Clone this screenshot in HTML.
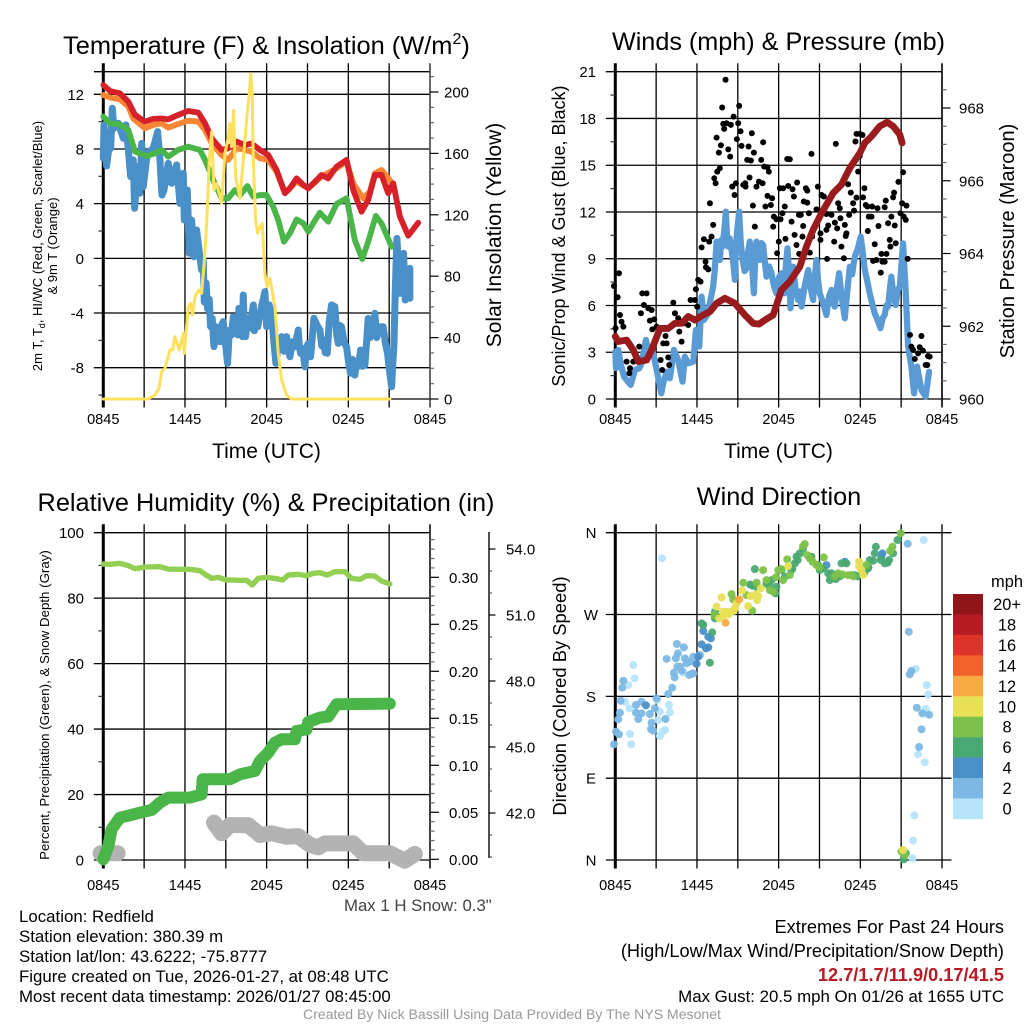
<!DOCTYPE html>
<html lang="en">
<head>
<meta charset="utf-8">
<title>Redfield Station Meteogram</title>
<style>
html,body{margin:0;padding:0;background:#fff;}
svg{display:block;font-family:"Liberation Sans",Arial,sans-serif;}
text{fill:#000;}
</style>
</head>
<body>
<svg id="chart" xmlns="http://www.w3.org/2000/svg" width="1024" height="1024" viewBox="0 0 1024 1024">
  <text x="63" y="54" font-size="25.4">Temperature (F) &amp; Insolation (W/m<tspan font-size="16" dy="-10">2</tspan><tspan dy="10">)</tspan></text>
  <text x="778.5" y="50" font-size="25.2" text-anchor="middle">Winds (mph) &amp; Pressure (mb)</text>
  <text x="266" y="511" font-size="25.3" text-anchor="middle">Relative Humidity (%) &amp; Precipitation (in)</text>
  <text x="779" y="505" font-size="25.3" text-anchor="middle">Wind Direction</text>

  <text x="266.5" y="458" font-size="21" text-anchor="middle">Time (UTC)</text>
  <text x="778.5" y="458" font-size="21" text-anchor="middle">Time (UTC)</text>

  <text transform="translate(42,246) rotate(-90)" font-size="13" text-anchor="middle">2m T, T<tspan font-size="9" dy="3">d</tspan><tspan dy="-3">, HI/WC (Red, Green, Scarlet/Blue)</tspan></text>
  <text transform="translate(57,246) rotate(-90)" font-size="13" text-anchor="middle">&amp; 9m T (Orange)</text>
  <text transform="translate(501,235) rotate(-90)" font-size="21" text-anchor="middle">Solar Insolation (Yellow)</text>
  <text transform="translate(565,236) rotate(-90)" font-size="18" text-anchor="middle">Sonic/Prop Wind &amp; Gust (Blue, Black)</text>
  <text transform="translate(1014,241) rotate(-90)" font-size="20" text-anchor="middle">Station Pressure (Maroon)</text>
  <text transform="translate(49,705) rotate(-90)" font-size="13.3" text-anchor="middle">Percent, Precipitation (Green), &amp; Snow Depth (Gray)</text>
  <text transform="translate(566,696) rotate(-90)" font-size="18.4" text-anchor="middle">Direction (Colored By Speed)</text>

  <g id="panels"></g>

  <text x="344" y="911" font-size="16.8" style="fill:#444">Max 1 H Snow: 0.3"</text>
  <g font-size="16.85">
    <text x="19" y="922">Location: Redfield</text>
    <text x="19" y="942">Station elevation: 380.39 m</text>
    <text x="19" y="962">Station lat/lon: 43.6222; -75.8777</text>
    <text x="19" y="982">Figure created on Tue, 2026-01-27, at 08:48 UTC</text>
    <text x="19" y="1002">Most recent data timestamp: 2026/01/27 08:45:00</text>
  </g>
  <g font-size="18.2" text-anchor="end">
    <text x="1004" y="933">Extremes For Past 24 Hours</text>
    <text x="1004" y="957">(High/Low/Max Wind/Precipitation/Snow Depth)</text>
    <text x="1004" y="981" font-weight="bold" style="fill:#b71c24">12.7/1.7/11.9/0.17/41.5</text>
    <text x="1004" y="1002" font-size="16.85">Max Gust: 20.5 mph On 01/26 at 1655 UTC</text>
  </g>
  <text x="512" y="1019" font-size="14.07" text-anchor="middle" style="fill:#999">Created By Nick Bassill Using Data Provided By The NYS Mesonet</text>
</svg>
<script>
// ---------- shared tick labels ----------
const timeTickLabels = ['0845', '1445', '2045', '0245', '0845'];
const timeTickHours = [0, 6, 12, 18, 24];
const timeGridHours = [0, 3, 6, 9, 12, 15, 18, 21, 24];

// ---------- temperature panel data (hours since 0845 UTC, deg F, W/m2) ----------
const tempTicks = [-8, -4, 0, 4, 8, 12];
const solarTicks = [0, 40, 80, 120, 160, 200];

const redHours = [0,.5,1.22,1.84,2.33,3.06,3.67,4.28,4.77,5.5,6.24,6.98,7.47,7.96,8.69,9.18,9.79,10.4,10.89,11.5,12.12,12.73,13.34,13.71,14.2,14.69,15.06,15.67,16.03,16.52,17.14,17.87,18.36,18.97,19.46,19.95,20.44,20.93,21.3,21.79,22.4,23.13];
const redTemps = [12.68,12.24,12.07,11.46,10.49,10,10.2,10.24,10.17,10.49,10.78,10.66,9.88,8.78,7.93,8.05,8.54,8.29,8.41,7.93,7.56,6.46,4.76,5.12,5.85,5.37,5.12,5.73,6.1,5.85,6.71,7.2,5,3.41,4.27,6.1,6.1,4.76,5.49,3.05,1.66,2.6];

const orangeHours = [0,.5,1.22,1.84,2.2,3.06,3.67,4.28,4.77,5.5,6.24,6.98,7.47,7.96,8.69,9.18,9.79,10.4,10.89,11.5,12.12,12.73,13.34,14.2,15.06,16.03,17.14,17.87,18.36,19.09,19.58,19.95,20.44,21.05,21.3];
const orangeTemps = [11.95,11.76,11.63,11.1,10.24,9.51,9.76,9.88,9.56,9.83,10.07,10,9.39,8.41,7.56,7.2,8.05,7.93,7.8,7.32,7.2,6.34,4.8,5.61,5.12,5.98,6.59,7.07,5.49,4.39,4.88,6.22,6.46,5.73,5.12];

const greenHours = [0,.5,1.22,1.84,2.33,3.18,3.79,4.28,4.77,5.5,6.24,7.1,7.47,8.08,8.69,9.18,9.67,10.04,10.58,11.02,11.5,11.99,12.48,12.85,13.27,13.71,14.2,14.69,15.06,15.42,15.91,16.52,17.14,17.87,18.48,19.02,19.46,20.02,20.44,21.18];
const greenTemps = [10.37,9.88,9.8,9.39,7.8,7.49,7.68,7.93,7.44,7.93,8.17,7.93,7.2,5.73,4.39,4.39,5,4.63,5.29,4.51,4.63,4.63,3.78,2.8,1.22,1.83,2.85,2.56,1.95,2.56,3.34,2.68,3.98,4.39,1.34,-.05,1.22,3.1,2.56,.85];

const blueHours = [0,.05,.24,.39,.54,.66,.78,1.1,1.47,1.66,1.84,2.01,2.2,2.3,2.52,2.69,2.82,2.94,3.23,3.67,3.99,4.16,4.31,4.46,4.77,5.02,5.39,5.63,5.88,5.95,6.17,6.32,6.49,6.66,6.85,7.22,7.34,7.42,7.55,7.66,7.78,7.88,8,8.13,8.27,8.4,8.57,8.7,8.81,8.95,9.13,9.22,9.3,9.42,9.55,9.67,9.79,9.88,9.96,10.06,10.16,10.22,10.28,10.36,10.45,10.6,10.77,10.9,11.02,11.1,11.19,11.35,11.51,11.7,11.87,12,12.18,12.36,12.5,12.68,12.85,13.1,13.28,13.46,13.6,13.71,13.9,14.08,14.32,14.4,14.49,14.65,14.81,14.93,15.06,15.23,15.47,15.7,15.91,16.05,16.16,16.3,16.45,16.6,16.77,17.01,17.15,17.26,17.38,17.5,17.7,17.87,18.02,18.16,18.32,18.48,18.6,18.75,18.9,19.06,19.22,19.35,19.46,19.6,19.71,19.85,19.95,20.08,20.2,20.38,20.56,20.72,20.88,21.02,21.18,21.26,21.35,21.46,21.57,21.79,22.06,22.18,22.52,22.52];
const blueTemps = [7.32,9.76,6.76,7.93,8.05,10.98,9.51,9.88,8.78,9.76,7.93,5.98,7.2,3.66,6.71,4.76,8.41,5.24,7.68,8.05,9.27,7.2,4.63,5,6.95,5.49,6.83,4.02,6.22,2.8,5,.37,2.8,.12,2.07,-.85,-.12,-3.2,-1.8,-3.7,-3,-5,-4.4,-6.46,-5,-5.8,-6.1,-4.9,-4.63,-6,-7.68,-6,-5.24,-5.6,-4.27,-5.4,-4.6,-5.6,-3.66,-5.3,-4.5,-5.73,-2.68,-5,-5.73,-4.4,-5.1,-4.2,-3.41,-5.3,-4.2,-5,-4.02,-3.2,-2.44,-5,-3.4,-4.02,-5.8,-7.68,-6.3,-5.73,-6.8,-5.73,-6.6,-7.2,-6.1,-6.46,-5.24,-6.4,-6.95,-6.6,-7.93,-6.5,-6.22,-7.2,-4.39,-4.9,-5.24,-6.4,-5.98,-6.9,-6.95,-4.6,-3.41,-3.54,-5.6,-6.22,-4.9,-5,-6.2,-6.46,-7.6,-8.41,-7.4,-8.54,-7.56,-7.9,-6.71,-7.9,-7.8,-6,-4.39,-5.8,-5.37,-5,-4.02,-5.8,-5.49,-5,-5,-6.2,-6.95,-8.2,-9.39,-7.8,-6.34,-2,1.46,-2.56,.37,-3.05,-.73,-2.93];

const solarHours = [0,3.3,3.79,4.09,4.28,4.53,4.9,5.09,5.26,5.58,5.88,5.95,6.24,6.41,6.56,6.73,7.03,7.22,7.39,7.52,7.64,7.78,7.96,8.13,8.32,8.52,8.69,8.94,9.18,9.3,9.42,9.57,9.72,10.04,10.28,10.53,10.72,10.82,10.94,11.02,11.19,11.33,11.51,11.68,11.87,12.04,12.24,12.61,12.85,13.1,13.46,13.83,21.05];
const solarValues = [0,0,2.6,6.9,17.8,20,31.9,31.9,40.6,31.9,42.8,29.7,60,62.3,54.7,66.6,71,68.8,86.2,103.5,123,155.6,174,136,140.4,133.9,127.4,160,170.8,179.5,164.3,188,144.7,130.6,155.6,181.6,199,212,199,155.6,116.5,107.9,112.2,114.4,81.8,73.1,78.6,60.1,29.7,12.4,2.6,0,0];

// ---------- winds panel data ----------
const windTicks = [0, 3, 6, 9, 12, 15, 18, 21];
const pressureTicks = [960, 962, 964, 966, 968];

const windHours = [0,.05,.22,.39,.64,1.13,1.44,1.76,1.93,2.25,2.5,2.79,2.99,3.38,3.52,3.77,4.01,4.31,4.62,4.94,5.11,5.36,5.73,5.92,6.17,6.34,6.51,6.83,7,7.19,7.3,7.44,7.55,7.68,7.78,7.88,8,8.12,8.2,8.29,8.4,8.54,8.66,8.78,8.85,8.95,9.1,9.22,9.35,9.5,9.64,9.76,9.88,10.03,10.18,10.28,10.37,10.5,10.62,10.74,10.86,11,11.11,11.3,11.48,11.66,11.84,12.03,12.21,12.41,12.53,12.65,12.76,12.87,12.97,13.07,13.25,13.43,13.55,13.68,13.9,14.17,14.35,14.53,14.65,14.78,14.9,15.02,15.25,15.51,15.7,15.88,16,16.12,16.28,16.44,16.65,16.86,17.05,17.23,17.4,17.59,17.8,18.03,18.18,18.33,18.5,18.69,18.85,19.06,19.25,19.48,19.65,19.79,19.92,20.04,20.16,20.28,20.45,20.6,20.75,20.9,21.02,21.14,21.24,21.34,21.51,21.75,21.95,22.17,22.49,22.8,23.05];
const windSpeeds = [3.04,1.97,3.15,2.29,1.43,.9,1.86,1.97,2.29,3.79,2.72,2.93,2.08,.36,1.01,1.75,1.33,3.15,2.5,1.11,2.72,2.29,2.4,4.43,3.36,6.57,5.07,5.5,6.4,7.21,8.2,10.1,9,8.92,10.2,9.78,10.8,12.02,10.6,9.78,10.3,9.56,8.8,7.64,9.6,10.8,12.02,10,8.92,8.2,8.39,9.5,10.1,8.8,6.78,9,10.1,9.1,8.92,10,9.88,8.7,7.85,8.5,8.07,7.2,6.78,7.8,8.07,6.78,8.6,9.67,8.2,5.82,7.4,8.49,7,6.35,6.9,5.93,7.2,8.28,7.1,6.35,7.8,8.92,7.6,6.78,6.2,5.39,6.6,7,6.2,5.93,7.1,8.07,6.4,5.18,7,8.49,8,9.14,9.6,10.42,9.4,8.28,7.6,6.78,6.2,5.5,5.1,4.54,5.2,5.39,6,5.93,7,7.85,6.5,6.03,7,7.21,8.6,9.99,8.4,6.78,3.36,2.08,.36,2.08,.58,.15,1.75];

const gustHours = [-.1,.27,.17,.02,.34,.46,.59,.83,1.32,1.08,1.03,1.76,1.88,1.98,2.3,2.1,2.42,2.67,2.54,2.86,2.72,3.03,3.33,3.45,3.89,3.96,3.52,3.77,3.69,4.26,4.38,4.62,4.7,4.87,5.04,5.36,5.53,5.85,5.92,6.02,6.09,6.26,6.63,6.66,6.83,6.34,6.51,6.9,7.07,7.19,6.95,7.27,7.37,7.49,7.68,7.61,7.76,7.44,7.85,8.1,7.93,8,8.17,8.49,8.3,8.44,8.69,9.1,9.03,9.2,8.93,9.27,8.59,8.86,8.76,9.4,9.57,9.54,9.86,9.79,10.03,10.18,9.69,9.96,10.72,10.86,10.94,11.18,11.28,10.55,10.37,10.82,10.11,11.18,11.52,11.43,11.03,10.25,12.09,12.33,12.7,12.63,12.82,13.36,13.02,13.12,14,14.1,14.41,14.88,16.2,17.72,17.96,18.16,17.64,17.96,17.84,13.85,14.1,12.45,11.65,11.84,12.14,12.28,11.6,12.01,12.5,11.89,12.95,13.17,13.49,13.63,14.22,14.78,13.8,13.75,14.46,13.31,13.51,14.29,15.15,15.32,15.51,15.88,15.07,15.51,15.07,16.08,15.56,15.64,16.3,16.13,16.37,16.49,16.54,16.86,17.18,16.98,16.93,16.61,16.79,17.1,17.3,17.72,17.47,17.54,18.2,18.3,18.4,18.52,18.87,18.62,18.82,19.26,19.33,18.55,19.06,18.94,19.18,19.55,19.62,19.79,19.5,19.92,19.79,19.87,20.41,20.48,20.8,21.14,21.07,20.95,20.28,20.04,20.53,20.16,20.21,20.6,21.39,21.19,21.34,21.48,21.65,22.49,21.75,21.87,22.24,22.36,22.6,22,22.97,23.09,22.8,22.92];
const gustSpeeds = [7.25,8.07,6.53,4.54,5.39,4.96,4.64,2.4,2.4,1.97,1.65,3.36,5.5,6.78,6.78,6.03,5.82,5.71,5.03,5.11,4.47,4.64,2.5,1.86,2.67,2.18,3.57,3.57,4.04,6.18,5.5,5.18,4.32,3.68,4.86,4.75,6.35,6.35,7.04,5.93,7.64,7.53,8.81,8.45,8.32,9.73,10.25,10.1,10.42,11.17,12.56,14.16,13.84,14.59,14.81,15.81,16.28,16.77,18.7,20.48,17.65,17.33,17.69,17.59,16.02,15.55,18.12,18.81,17.69,17.18,16.67,16.24,13.63,13.84,13.09,13.74,13.63,13.84,14.21,16.2,17.05,15.81,15.34,15.3,15.34,16.47,14.91,14.87,14.59,13.95,13.63,13.84,12.41,13.03,12.88,12.45,12.35,11.06,13.52,13.52,13.67,15.4,15.38,13.89,13.46,12.99,13.52,13.37,15.73,13.63,16.37,17.01,17.01,16.94,16.52,15.6,14.59,12.67,12.6,12.35,11.7,11.53,11.53,11.92,11.06,10.1,10.27,9.35,11.38,10.53,11.81,11.81,11.92,12.17,11.1,10.42,10.42,9.88,9.31,9.39,13.09,12.99,11.87,11.81,10.63,10.85,10.21,10.1,8.99,11.13,10.95,11.32,12.56,12.24,11.6,11.17,11.81,10.63,10.46,9.78,9.03,13.78,13.24,12.92,12.56,12.09,12.94,13.52,12.45,12.35,12.35,11.7,11.7,12.24,11.1,10.78,9.93,8.86,8.92,9.31,8.81,8.81,8.11,9.31,12.3,12.73,12.94,13.24,13.93,14.55,12.56,11.92,11.7,11.28,11.13,10.21,9.78,9.99,12.41,11.7,11.49,8.99,4.11,4.04,3.36,3.15,2.93,3.32,3.1,2.57,2.76,2.72,2.18,2.18];

const pressureHours = [0,.22,.83,1.32,1.69,2.3,2.67,3.28,3.89,4.38,4.87,5.36,5.85,6.46,6.95,7.44,8.05,8.78,9.52,10.13,10.57,10.99,11.6,11.96,12.21,12.82,13.56,14.04,14.53,15.15,16,16.61,17.23,17.96,18.33,18.82,19.43,19.97,20.41,20.9,21.07];
const pressureValues = [961.72,961.58,961.62,961.35,961.03,961.07,961.35,961.94,961.94,962.08,962.08,962.27,962.17,962.31,962.4,962.63,962.77,962.63,962.31,962.08,962.06,962.17,962.31,962.72,963,963.23,963.64,964.19,964.65,965.11,965.66,965.89,966.35,966.76,967.04,967.22,967.5,967.61,967.5,967.27,967.04];

// ---------- humidity panel data ----------
const percentTicks = [0, 20, 40, 60, 80, 100];
const precipTicks = [0, .05, .10, .15, .20, .25, .30];
const snowTicks = [42, 45, 48, 51, 54];

const humidityHours = [0,.49,1.22,1.84,2.33,3.06,4.16,4.77,5.63,6.36,7.1,7.47,7.96,8.45,9.06,9.55,10.04,10.53,10.94,11.38,12,12.73,13.17,13.59,14.32,14.93,15.42,15.91,16.45,17.01,17.75,18.24,18.85,19.34,19.95,20.44,21.05];
const humidityValues = [90.43,90.33,90.63,89.92,89,89.51,89.61,88.9,88.8,88.8,88.39,87.27,86.05,86.35,85.54,85.54,85.44,85.44,84.01,86.05,86.35,85.95,85.54,87.07,87.27,86.86,87.58,87.78,87.07,88.09,88.09,86.05,85.74,86.86,86.76,85.24,84.32];

const precipHours = [0,.37,.61,1.22,1.96,2.69,3.55,4.16,4.77,6.36,7.22,7.3,9.3,10.04,11.14,11.51,12.12,12.61,13.1,14.08,14.2,14.93,15.06,15.91,16.52,17.14,21.05];
const precipValues = [0,.0142,.0319,.0443,.0468,.0496,.0525,.0603,.0656,.0656,.0691,.0851,.0851,.0904,.094,.1046,.1135,.1241,.1277,.1277,.1365,.1383,.1461,.1507,.1518,.1649,.1656];

const snowStartHours = [-.2, 1.05];
const snowStartDepths = [40.17, 40.17];
const snowHours = [8.13,8.69,9.3,10.65,11.51,12.36,13.46,14.32,15.18,15.79,16.28,18.36,19.09,21.05,22.15,22.89];
const snowDepths = [41.56,41.08,41.45,41.45,41,41.08,40.92,40.95,40.55,40.44,40.62,40.62,40.17,40.17,39.83,40.14];

// ---------- wind direction panel data, grouped by speed bin ----------
const compassLabels = ['N', 'E', 'S', 'W', 'N'];
const compassDegrees = [0, 90, 180, 270, 360];
const legendLabels = ['20+', '18', '16', '14', '12', '10', '8', '6', '4', '2', '0'];
const speedBinSpeeds = [1, 3, 5, 7, 9, 11, 13];
const directionHoursByBin = [
  [3.43,22.66,1.32,1.42,.95,.71,1.03,3.94,3.28,4.01,3.08,3.16,3.65,3.47,3.28,1.08,1.17,22.07,22.88,22.98,22.81,22.24,22.73,21.97,21.88,21.83,4.99],
  [21.48,.59,.51,.39,.34,.22,.05,.27,-.1,1.52,1.93,1.52,1.93,1.69,2.54,2.91,3.03,2.67,2.62,2.79,3.69,3.89,4.18,4.36,4.31,4.55,4.75,4.89,4.45,4.6,5.11,5.24,5.48,5.6,5.43,5.73,4.53,5.04,3.77,5.73,6.22,21.56,21.75,21.63,22.15,22.56,23.05,22.49,22.32],
  [2.25,5.97,6.09,6.34,6.83,6.66,6.83,7.02,6.46,15.51,16.86,19.62,19.55],
  [6.46,6.34,7.12,6.95,7.32,7.32,10.25,10.08,10.38,11.84,11.77,11.48,12.21,12.46,13.56,13.31,13.8,15.02,14.9,15.76,16,15.88,16.62,16.98,17.59,18.57,18.69,18.94,19.14,19.06,19.8,20.11,20.41,20.73,21.34,21.19,15.64,13.19,12.94,14.41,15.27,15.9,16.2,16.5,17.8,18.3,18.6,19.5,20,13,13.4,11.3,11.1,9.9],
  [7.27,9.4,10.86,10.38,11.11,11.35,11.6,11.97,12.63,12.82,12.33,13.92,14.1,14.29,14.78,15.32,16.37,17.1,17.35,18.45,20.36,20.97,8.54,8.66,9.64,10.06,21.02,21.26,16.1,16.7,17.5,20.2,11.8,12.2,13.8,14.5,15],
  [7.81,7.44,8.17,8.54,7.63,7.93,8.78,8.91,9.32,9.93,10.5,10.42,10.69,9.76,12.7,17.91,17.91,18.08,18.21,21.14,7.9,8.3,8.7,10.3],
  [8.1,9.1]
];
const directionDegreesByBin = [
  [331.8,351.9,214.5,199.8,192.5,174.1,166.8,170.5,163.1,162.4,176,154,143,141.1,136.4,138.6,127.2,210.1,192.5,182.2,166.1,116.2,107.4,49.1,21.6,1.8,206],
  [347.9,197.2,189.5,175.2,162,154.7,141.1,138.2,127.2,170.5,174.1,162,161.3,155.1,160.6,166.8,177.8,151,144.1,142.2,155.1,182.6,189.5,200.9,206,212.6,212.6,208.2,221.8,227.3,221.8,216.3,218.1,204.6,203.5,205.3,237.6,233.9,221.1,223.6,225.5,251.1,207.9,204.2,167.5,161.3,159.8,143.7,124.3],
  [170.1,215.6,223.6,237.2,233.9,232.8,245.6,243.8,251.9,324.4,328.1,337.3,333.6],
  [258.5,260.3,250.4,217,273.1,265.8,320,301.7,300.6,300.6,293.3,307.9,318.9,311.6,337.3,333.6,342.8,318.9,324.4,307.9,311.6,315.3,326.3,326.3,313.4,320.8,329.9,329.2,344.6,337.3,326.3,329.9,337.3,351.9,7.3,.7,315.3,326.3,318.9,333.6,320.8,313,309,312,312,316,322,330,327,320,330,302,304,303],
  [269.4,305,318.9,305,307.9,296.9,295.1,318.9,330.7,313.4,307.9,347.5,335.4,331.8,324.4,332.9,315.3,313.4,313.4,324.4,344.6,359.3,292.5,286.7,291.4,274.2,9.2,5.5,312,314,312,340,311,320,345,328,322],
  [288.9,278.6,273.1,273.1,265.8,269.4,276.8,282.3,296.2,290.3,290.3,285.9,298.8,279.3,323.3,328.1,322.6,318.9,313.4,11,273,270,274,292],
  [261,286.7]
];

// ---------- drawing helpers ----------
const SVGNS = 'http://www.w3.org/2000/svg';
const root = document.getElementById('panels');

function mk(parent, tag, attrs, text) {
  const el = document.createElementNS(SVGNS, tag);
  for (const k in attrs) el.setAttribute(k, attrs[k]);
  if (text !== undefined) el.textContent = text;
  parent.appendChild(el);
  return el;
}
function linear(d0, d1, r0, r1) {
  return v => r0 + (v - d0) * (r1 - r0) / (d1 - d0);
}
function drawLine(parent, name, hours, values, xFn, yFn, color, width) {
  const pts = hours.map((h, i) => xFn(h).toFixed(2) + ',' + yFn(values[i]).toFixed(2)).join(' ');
  const el = mk(parent, 'polyline', {points: pts, fill: 'none', stroke: color, 'stroke-width': width, 'stroke-linejoin': 'round', 'stroke-linecap': 'round'});
  
  
  return el;
}
function seg(parent, name, x1, y1, x2, y2, w, color) {
  const el = mk(parent, 'line', {x1: x1, y1: y1, x2: x2, y2: y2, stroke: color || '#000', 'stroke-width': w});
  
  
  return el;
}
function label(parent, name, x, y, text, anchor, size) {
  const el = mk(parent, 'text', {x: x, y: y, 'font-size': size || 15, 'text-anchor': anchor || 'middle'}, text);
  
  
  return el;
}

// Draws the vertical time grid, extended as ticks beyond the frame, plus labels.
function timeGrid(parent, xFn, top, bottom, labelY) {
  timeGridHours.forEach(h => {
    seg(parent, 'time-gridline', xFn(h), top - 8.5, xFn(h), bottom + 8.5, h === 0 ? 3 : 1.3);
  });
  timeTickHours.forEach((h, i) => {
    label(parent, 'time-tick-label', xFn(h), labelY, timeTickLabels[i], 'middle', 14.6);
  });
}
function horizontalGrid(parent, yFn, ticks, x0, x1, extRight) {
  ticks.forEach(t => {
    seg(parent, 'horizontal-gridline', x0 - 9.5, yFn(t), x1 + (extRight || 0), yFn(t), 1.3);
  });
}

const xLeft = linear(0, 24, 103.3, 430);
const xRight = linear(0, 24, 615.3, 942);

// ---------- panel 1: temperature & insolation ----------
const g1 = mk(root, 'g', {});


const yTemp = linear(12, -8, 94.3, 367.7);
const ySolar = linear(0, 200, 399, 92);
timeGrid(g1, xLeft, 71.7, 399, 424);
seg(g1, 'temperature-frame-top', 94, 71.7, 430, 71.7, 1.3);
seg(g1, 'temperature-frame-bottom', 103, 399, 430, 399, 1.3);
horizontalGrid(g1, yTemp, tempTicks, 103.3, 430);
tempTicks.forEach(t => {
  label(g1, 'temperature-tick-label', 84, yTemp(t) + 5.5, String(t), 'end');
});
for (let t = -10; t <= 10; t += 4) {
  seg(g1, 'temperature-minor-tick', 98.5, yTemp(t), 103.3, yTemp(t), 1.2, '#333');
}
seg(g1, 'insolation-axis-line', 430, 63.5, 430, 407.5, 1.6, '#555');
for (let s = 0; s <= 210; s += 10) {
  const major = s % 40 === 0;
  seg(g1, 'insolation-tick', 430, ySolar(s), major ? 438.5 : 434, ySolar(s), 1.2, major ? '#000' : '#666');
}
solarTicks.forEach(s => {
  label(g1, 'insolation-tick-label', 444, ySolar(s) + 5.5, String(s), 'start');
});
drawLine(g1, 'wind-chill-line', blueHours, blueTemps, xLeft, yTemp, '#4a90c8', 7);
drawLine(g1, 'dew-point-line', greenHours, greenTemps, xLeft, yTemp, '#4ab548', 5.8);
drawLine(g1, 'temperature-9m-line', orangeHours, orangeTemps, xLeft, yTemp, '#f58634', 5.8);
drawLine(g1, 'temperature-2m-line', redHours, redTemps, xLeft, yTemp, '#d7212a', 5.8);
drawLine(g1, 'solar-insolation-line', solarHours, solarValues, xLeft, ySolar, '#fde15c', 3);

// ---------- panel 2: winds & pressure ----------
const g2 = mk(root, 'g', {});


const yWind = linear(0, 21, 399, 71.7);
const yPressure = linear(960, 968, 399, 108);
timeGrid(g2, xRight, 71.7, 399, 424);
horizontalGrid(g2, yWind, windTicks, 615.3, 942);
windTicks.forEach(t => {
  label(g2, 'wind-tick-label', 596, yWind(t) + 5.5, String(t), 'end');
});
for (let t = 1.5; t < 21; t += 3) {
  seg(g2, 'wind-minor-tick', 610.5, yWind(t), 615.3, yWind(t), 1.2, '#333');
}
seg(g2, 'pressure-axis-line', 942, 63.5, 942, 407.5, 1.8, '#222');
for (let p = 960; p <= 968.8; p += 0.5) {
  const major = Math.abs(p % 2) < 1e-6;
  seg(g2, 'pressure-tick', 942, yPressure(p), major ? 950.5 : 946.5, yPressure(p), 1.2, major ? '#000' : '#666');
}
pressureTicks.forEach(p => {
  label(g2, 'pressure-tick-label', 959, yPressure(p) + 5.5, String(p), 'start');
});
drawLine(g2, 'sonic-wind-line', windHours, windSpeeds, xRight, yWind, '#5b9bd5', 6.2);
gustHours.forEach((h, i) => {
  const dot = mk(g2, 'circle', {cx: xRight(h).toFixed(2), cy: yWind(gustSpeeds[i]).toFixed(2), r: 3, fill: '#000'});
  
  
});
drawLine(g2, 'station-pressure-line', pressureHours, pressureValues, xRight, yPressure, '#991b1e', 6.8);

// ---------- panel 3: humidity, precipitation, snow ----------
const g3 = mk(root, 'g', {});


const yPercent = linear(0, 100, 860, 532.7);
const yPrecip = linear(0, .3, 859.3, 577.3);
const ySnow = linear(42, 54, 813, 549);
timeGrid(g3, xLeft, 532.7, 860, 890);
horizontalGrid(g3, yPercent, percentTicks, 103.3, 430);
percentTicks.forEach(t => {
  label(g3, 'percent-tick-label', 84, yPercent(t) + 5.5, String(t), 'end');
});
for (let t = 10; t < 100; t += 20) {
  seg(g3, 'percent-minor-tick', 98.5, yPercent(t), 103.3, yPercent(t), 1.2, '#333');
}
seg(g3, 'precipitation-axis-line', 430, 524.5, 430, 868.5, 1.8, '#333');
for (let i = 0; i <= 34; i++) {
  const major = i % 5 === 0;
  seg(g3, 'precipitation-tick', 430, yPrecip(i / 100), major ? 439 : 434.5, yPrecip(i / 100), 1.2, major ? '#000' : '#666');
}
precipTicks.forEach(p => {
  label(g3, 'precipitation-tick-label', 449, yPrecip(p) + 5.5, p.toFixed(2), 'start');
});
seg(g3, 'snow-axis-line', 489, 532, 489, 858, 1.6, '#222');
for (let d = 40; d <= 54; d += 1) {
  const major = (d % 3) === 0;
  seg(g3, 'snow-tick', 489, ySnow(d), major ? 495.5 : 492, ySnow(d), 1.2, major ? '#000' : '#555');
}
snowTicks.forEach(d => {
  label(g3, 'snow-tick-label', 506, ySnow(d) + 5.5, d.toFixed(1), 'start');
});
drawLine(g3, 'snow-depth-line-start', snowStartHours, snowStartDepths, xLeft, ySnow, '#b3b3b3', 16);
drawLine(g3, 'snow-depth-line', snowHours, snowDepths, xLeft, ySnow, '#b3b3b3', 16);
drawLine(g3, 'relative-humidity-line', humidityHours, humidityValues, xLeft, yPercent, '#93cf52', 5.4);
drawLine(g3, 'precipitation-line', precipHours, precipValues, xLeft, yPrecip, '#4ab548', 12);

// ---------- panel 4: wind direction ----------
const g4 = mk(root, 'g', {});


const yDirection = linear(0, 360, 860, 532.7);
const legendColors = ['#8f1518', '#b71c24', '#de3328', '#f26129', '#f8ab42', '#e8e055', '#7cc24a', '#4aa872', '#4a90c8', '#7cb8e4', '#b6e4fa'];
function speedColor(s) {
  const idx = Math.min(10, Math.floor(s / 2));
  return legendColors[10 - idx];
}
timeGrid(g4, xRight, 532.7, 860, 890);
horizontalGrid(g4, yDirection, compassDegrees, 615.3, 942, 9.5);
compassDegrees.forEach((d, i) => {
  label(g4, 'compass-tick-label', 591, yDirection(d) + 5.5, compassLabels[i]);
});
directionHoursByBin.forEach((hours, b) => {
  hours.forEach((h, i) => {
    const dot = mk(g4, 'circle', {cx: xRight(h).toFixed(2), cy: yDirection(directionDegreesByBin[b][i]).toFixed(2), r: 4, fill: speedColor(speedBinSpeeds[b]), 'fill-opacity': .95});
    
    
  });
});
const legend = mk(g4, 'g', {});


label(legend, 'legend-unit', 1007, 587, 'mph', 'middle', 16.4);
legendLabels.forEach((t, i) => {
  const y = 594 + i * 20.45;
  const box = mk(legend, 'rect', {x: 953, y: y, width: 30, height: 20.7, fill: legendColors[i]});
  
  
  label(legend, 'legend-label', 1007, y + 16, t, 'middle', 16.4);
});
</script>
</body>
</html>
